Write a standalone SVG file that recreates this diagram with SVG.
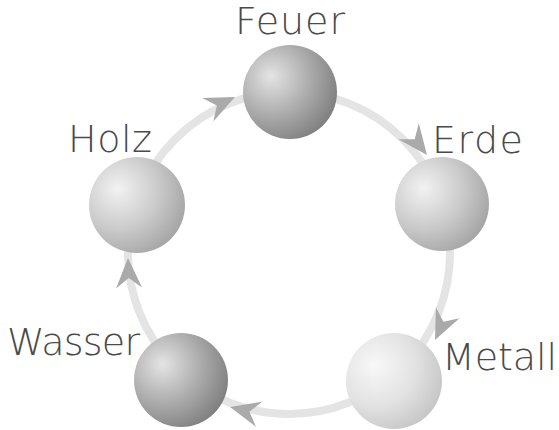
<svg xmlns="http://www.w3.org/2000/svg" width="559" height="430" viewBox="0 0 559 430">
  <defs>
    <radialGradient id="gDark" cx="0.32" cy="0.36" r="0.75" fx="0.3" fy="0.33">
      <stop offset="0" stop-color="#e4e4e4"/>
      <stop offset="0.55" stop-color="#aaaaaa"/>
      <stop offset="1" stop-color="#7c7c7c"/>
    </radialGradient>
    <radialGradient id="gMid" cx="0.32" cy="0.36" r="0.75" fx="0.3" fy="0.33">
      <stop offset="0" stop-color="#f2f2f2"/>
      <stop offset="0.55" stop-color="#cacaca"/>
      <stop offset="1" stop-color="#a2a2a2"/>
    </radialGradient>
    <radialGradient id="gLight" cx="0.32" cy="0.36" r="0.75" fx="0.3" fy="0.33">
      <stop offset="0" stop-color="#f8f8f8"/>
      <stop offset="0.55" stop-color="#e2e2e2"/>
      <stop offset="1" stop-color="#c4c4c4"/>
    </radialGradient>
    <path id="ah" d="M0,0 L-30,-13 L-20,0 L-30,13 Z"/>
  </defs>
  <style>
    .ring { fill: none; stroke: #e4e4e4; stroke-width: 8; }
    .arrow { fill: #aaaaaa; }
    .lbl { font-family: "DejaVu Sans", "Liberation Sans", sans-serif; font-weight: 200; font-size: 38px; fill: #4a4a4a; }
  </style>
  <rect width="559" height="430" fill="#ffffff"/>
  <g id="connectors">
    <circle class="ring" cx="289" cy="253" r="161"/>
    <use href="#ah" class="arrow" transform="translate(235,97) rotate(-25)"/>
    <use href="#ah" class="arrow" transform="translate(427,155) rotate(52)"/>
    <use href="#ah" class="arrow" transform="translate(435,340) rotate(115)"/>
    <use href="#ah" class="arrow" transform="translate(230,407) rotate(194)"/>
    <use href="#ah" class="arrow" transform="translate(128,258) rotate(268)"/>
  </g>
  <g id="feuer">
    <circle cx="290" cy="92" r="47" fill="url(#gDark)"/>
    <text class="lbl" x="235" y="34" font-size="36" textLength="110">Feuer</text>
  </g>
  <g id="erde">
    <circle cx="442" cy="204" r="47" fill="url(#gMid)"/>
    <text class="lbl" x="432" y="153" textLength="91">Erde</text>
  </g>
  <g id="metall">
    <circle cx="394" cy="381" r="48" fill="url(#gLight)"/>
    <text class="lbl" x="442" y="370" textLength="115">Metall</text>
  </g>
  <g id="wasser">
    <circle cx="181" cy="380" r="47" fill="url(#gDark)"/>
    <text class="lbl" x="7" y="355" textLength="133">Wasser</text>
  </g>
  <g id="holz">
    <circle cx="137" cy="205" r="48" fill="url(#gMid)"/>
    <text class="lbl" x="68" y="152" textLength="84">Holz</text>
  </g>
</svg>
